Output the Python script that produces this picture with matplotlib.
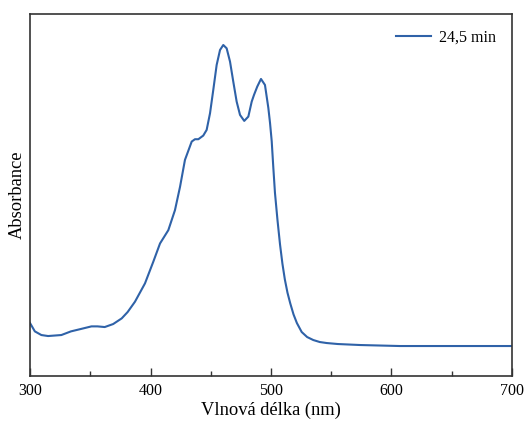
import numpy as np
import matplotlib.pyplot as plt
from matplotlib.ticker import MultipleLocator, NullLocator

plt.rcParams['font.family'] = ['Liberation Serif', 'DejaVu Serif']

# wavelength (nm) and absorbance
wavelength = [300, 304, 309.4, 315, 326, 334, 342, 351, 356, 362, 369, 376.1, 381,
              387.1, 395.4, 402.3, 407.9, 414.8, 420.3, 424.5, 428.6, 434.2, 436.9,
              439.7, 443.8, 446.6, 449.4, 452.1, 454.9, 457.7, 460.4, 463.2, 466,
              468.7, 471.5, 474.3, 477.8, 481.2, 484, 485.9, 488.6, 491.7, 495,
              497.8, 499.2, 500.6, 501.9, 503.3, 505.4, 507.5, 509.5, 511.5, 513.7,
              516, 518.7, 521.5, 525.5, 530, 535.1, 540.5, 546.2, 555.5, 574, 607,
              648.5, 700]
absorbance = [0.159, 0.134, 0.123, 0.120, 0.123, 0.134, 0.141, 0.149, 0.149, 0.147,
              0.156, 0.173, 0.192, 0.223, 0.278, 0.343, 0.398, 0.438, 0.498, 0.568,
              0.649, 0.704, 0.711, 0.711, 0.722, 0.739, 0.789, 0.859, 0.934, 0.979,
              0.994, 0.984, 0.944, 0.884, 0.824, 0.784, 0.766, 0.779, 0.824, 0.844,
              0.869, 0.892, 0.874, 0.805, 0.760, 0.705, 0.628, 0.550, 0.468, 0.395,
              0.337, 0.290, 0.250, 0.218, 0.185, 0.159, 0.132, 0.117, 0.108, 0.102,
              0.099, 0.096, 0.093, 0.090, 0.090, 0.090]
series_label = '24,5 min'

fig = plt.figure(figsize=(5.24, 4.21), dpi=100)
ax = fig.add_axes([0.0573, 0.1069, 0.9197, 0.8598])

ax.plot(wavelength, absorbance, color='#2f62a8', lw=1.5, label=series_label,
        solid_joinstyle='round')

ax.set_xlim(300, 700)
ax.set_ylim(0, 1.087)
ax.xaxis.set_major_locator(MultipleLocator(100))
ax.xaxis.set_minor_locator(MultipleLocator(50))
ax.yaxis.set_major_locator(NullLocator())
ax.tick_params(axis='x', which='major', direction='in', length=6, width=1,
               labelsize=11.5, colors='#333333', labelcolor='black', pad=5)
ax.tick_params(axis='x', which='minor', direction='in', length=3.5, width=1,
               colors='#333333')
for s in ax.spines.values():
    s.set_linewidth(1.2)
    s.set_color('#333333')

ax.set_xlabel('Vlnová délka (nm)', fontsize=13.3, labelpad=2)
ax.set_ylabel('Absorbance', fontsize=13.3, labelpad=3)

ax.legend(loc='upper right', frameon=False, fontsize=11.5, handlelength=2.2,
          handletextpad=0.5, borderaxespad=0.6)

fig.savefig('out.png', dpi=100)
